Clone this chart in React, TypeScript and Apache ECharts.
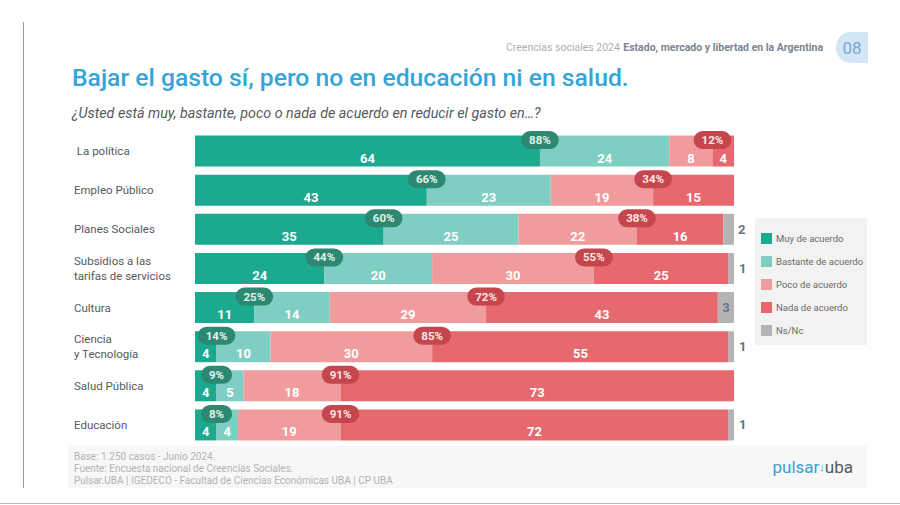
import React, { useEffect, useRef } from "react";
import * as echarts from "echarts";

const categories = [
  " La política",
  "Empleo Público",
  "Planes Sociales",
  "Subsidios a las\ntarifas de servicios",
  "Cultura",
  "Ciencia\ny Tecnología",
  "Salud Pública",
  "Educación",
];
const muy = [64, 43, 35, 24, 11, 4, 4, 4];
const bastante = [24, 23, 25, 20, 14, 10, 5, 4];
const poco = [8, 19, 22, 30, 29, 30, 18, 19];
const nada = [4, 15, 16, 25, 43, 55, 73, 72];
const nsnc = [0, 0, 2, 1, 3, 1, 0, 1];
const agreeTotals = [88, 66, 60, 44, 25, 14, 9, 8];
const disagreeTotals = [12, 34, 38, 55, 72, 85, 91, 91];
const seriesNames = ["Muy de acuerdo", "Bastante de acuerdo", "Poco de acuerdo", "Nada de acuerdo", "Ns/Nc"];
const footerLines = [
  "Base: 1.250 casos - Junio 2024.",
  "Fuente: Encuesta nacional de Creencias Sociales.",
  "Pulsar.UBA | IGEDECO - Facultad de Ciencias Económicas UBA | CP UBA",
];

const COLORS = ["#1ba98f", "#7fcec3", "#f09b9c", "#e5696f", "#b4b4b4"];
const FONT = "Roboto";

export default function App() {
  const ref = useRef<HTMLDivElement>(null);
  useEffect(() => {
    if (!ref.current) return;
    const chart = echarts.init(ref.current, null, { renderer: "svg" });
    const valueLabel = {
      show: true,
      position: "inside",
      offset: [0, 7],
      color: "#ffffff",
      fontWeight: "bold",
      fontSize: 13,
      fontFamily: FONT,
      formatter: (p: any) => (p.value > 0 ? String(p.value) : ""),
    };
    const seg = (name: string, data: number[], i: number) => ({
      name,
      type: "bar",
      stack: "total",
      barWidth: 31,
      data,
      itemStyle: { color: COLORS[i] },
      label: valueLabel,
    });
    const nsData = nsnc.map((v) => {
      if (v >= 3)
        return {
          value: v,
          label: {
            show: true,
            position: "inside",
            color: "#6b7785",
            fontWeight: "bold",
            fontSize: 13,
            fontFamily: FONT,
            formatter: String(v),
          },
        };
      return {
        value: v,
        label: {
          show: v > 0,
          position: "right",
          distance: v === 2 ? 4 : 5,
          color: "#66727e",
          fontWeight: "bold",
          fontSize: 13,
          fontFamily: FONT,
          formatter: String(v),
        },
      };
    });
    const badge = (bg: string, fg: string) => ({
      show: true,
      position: "inside",
      offset: [0, -11],
      backgroundColor: bg,
      color: fg,
      borderRadius: 9,
      padding: [3, 8, 3, 8],
      fontSize: 11.5,
      fontWeight: "bold",
      fontFamily: FONT,
    });
    const agreeBadges = categories.map((c, i) => ({
      value: [muy[i], i],
      label: { ...badge("#2d8872", "#e3f3ec"), formatter: agreeTotals[i] + "%" },
    }));
    const disagreeBadges = categories.map((c, i) => ({
      value: [muy[i] + bastante[i] + poco[i], i],
      label: { ...badge("#c6464d", "#fde6e6"), formatter: disagreeTotals[i] + "%" },
    }));

    chart.setOption({
      animation: false,
      backgroundColor: "#ffffff",
      textStyle: { fontFamily: FONT },
      grid: { left: 195, right: 166, top: 131.5, height: 313, containLabel: false },
      xAxis: { type: "value", min: 0, max: 100, show: false },
      yAxis: {
        type: "category",
        data: categories,
        inverse: true,
        axisLine: { show: false },
        axisTick: { show: false },
        axisLabel: {
          align: "left",
          margin: 121,
          color: "#555a60",
          fontSize: 11.5,
          lineHeight: 15,
          fontFamily: FONT,
        },
      },
      legend: {
        data: seriesNames,
        orient: "vertical",
        left: 756,
        top: 228,
        icon: "rect",
        itemWidth: 11,
        itemHeight: 11,
        itemGap: 12,
        textStyle: { color: "#6a6a6a", fontSize: 9.5, fontFamily: FONT, padding: [0, 0, 0, -1] },
        selectedMode: false,
      },
      series: [
        seg(seriesNames[0], muy, 0),
        seg(seriesNames[1], bastante, 1),
        seg(seriesNames[2], poco, 2),
        seg(seriesNames[3], nada, 3),
        {
          name: seriesNames[4],
          type: "bar",
          stack: "total",
          barWidth: 31,
          data: nsData,
          itemStyle: { color: COLORS[4] },
        },
        {
          name: "agree",
          type: "scatter",
          symbol: "circle",
          symbolSize: 2,
          itemStyle: { color: "rgba(0,0,0,0)", opacity: 1 },
          data: agreeBadges,
          z: 10,
        },
        {
          name: "disagree",
          type: "scatter",
          symbol: "circle",
          symbolSize: 2,
          itemStyle: { color: "rgba(0,0,0,0)", opacity: 1 },
          data: disagreeBadges,
          z: 10,
        },
      ],
      graphic: [
        { type: "line", shape: { x1: 23.5, y1: 22, x2: 23.5, y2: 488 }, style: { stroke: "#9a9a9a", lineWidth: 1 } },
        { type: "line", shape: { x1: 0, y1: 503.5, x2: 900, y2: 503.5 }, style: { stroke: "#b8b8b8", lineWidth: 1 } },
        { type: "rect", shape: { x: 68, y: 446, width: 799, height: 42 }, style: { fill: "#f7f7f7" }, z: -10 },
        { type: "rect", shape: { x: 755, y: 218, width: 112, height: 127 }, style: { fill: "#f2f2f2" }, z: -10 },
        {
          type: "text",
          x: 823,
          y: 47,
          style: {
            text: "{a|Creencias sociales 2024} {b|Estado, mercado y libertad en la Argentina}",
            align: "right",
            verticalAlign: "middle",
            rich: {
              a: { fill: "#aab1b8", fontSize: 10.5, fontFamily: FONT },
              b: { fill: "#7b858f", fontSize: 10.5, fontWeight: "bold", fontFamily: FONT },
            },
          },
        },
        { type: "rect", shape: { x: 836, y: 32, width: 32, height: 31, r: [15, 0, 0, 15] }, style: { fill: "#d3e6f8" } },
        {
          type: "text",
          x: 852,
          y: 48,
          style: { text: "08", align: "center", verticalAlign: "middle", fill: "#74a6d8", fontSize: 17, fontFamily: FONT },
        },
        {
          type: "text",
          x: 72,
          y: 77,
          style: {
            text: "Bajar el gasto sí, pero no en educación ni en salud.",
            verticalAlign: "middle",
            fill: "#33a5d8",
            fontSize: 24.7,
            fontWeight: 500,
            fontFamily: FONT,
          },
        },
        {
          type: "text",
          x: 72,
          y: 113,
          style: {
            text: "¿Usted está muy, bastante, poco o nada de acuerdo en reducir el gasto en…?",
            verticalAlign: "middle",
            fill: "#555a60",
            fontSize: 14.3,
            fontStyle: "italic",
            fontFamily: FONT,
          },
        },
        ...footerLines.map((t, i) => ({
          type: "text",
          x: 74,
          y: 456 + i * 12,
          style: { text: t, verticalAlign: "middle", fill: "#b3b3b3", fontSize: 10, fontFamily: FONT },
        })),
        {
          type: "text",
          x: 853,
          y: 467,
          style: {
            text: "{p|pulsar}{s|↓}{u|uba}",
            align: "right",
            verticalAlign: "middle",
            rich: {
              p: { fill: "#3a9fd2", fontSize: 17, fontFamily: FONT },
              s: { fill: "#3a9fd2", fontSize: 11, fontFamily: FONT },
              u: { fill: "#555a60", fontSize: 17, fontFamily: FONT },
            },
          },
        },
      ],
    });
    return () => chart.dispose();
  }, []);
  return (
    <div
      ref={ref}
      style={{ position: "fixed", left: 0, top: 0, width: 900, height: 505, background: "#fff" }}
    />
  );
}
